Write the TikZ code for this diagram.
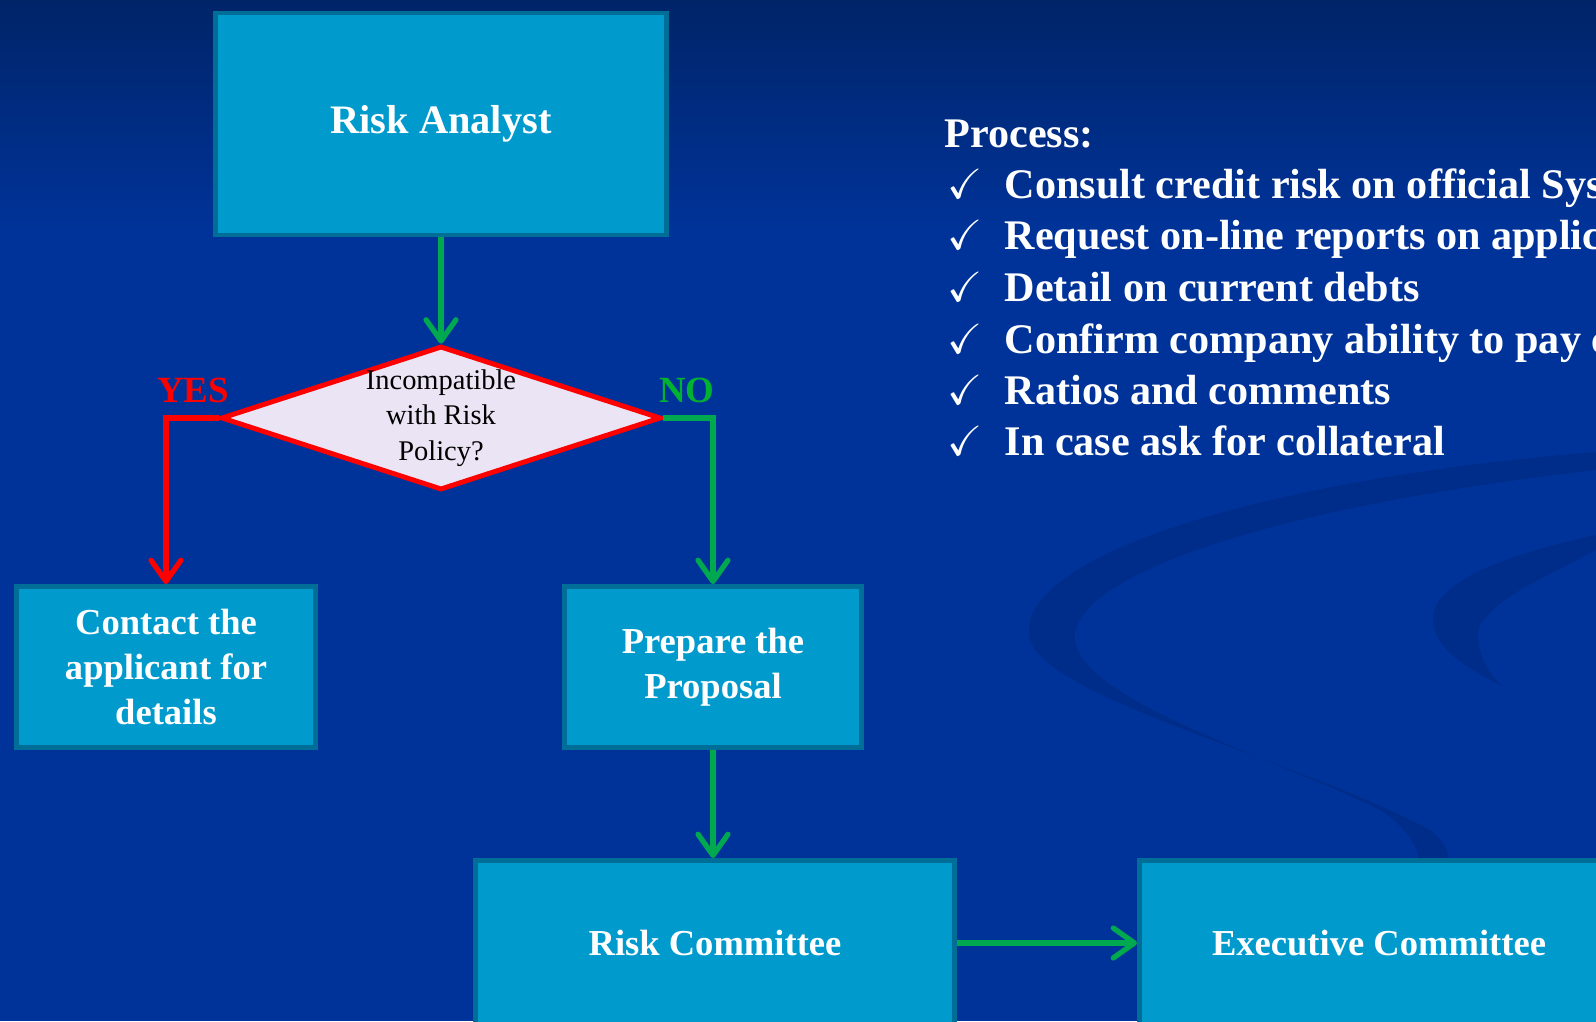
\documentclass[tikz,border=0pt]{standalone}
\usepackage{amssymb}
\usepackage{fontspec}
\setmainfont{Liberation Serif}
\usetikzlibrary{arrows.meta,positioning,shapes.geometric}

\definecolor{bgblue}{RGB}{0,51,153}
\definecolor{bgtop}{RGB}{0,36,104}
\definecolor{swirl}{RGB}{0,44,138}
\definecolor{boxfill}{RGB}{0,154,205}
\definecolor{boxedge}{RGB}{0,110,150}
\definecolor{flowgreen}{RGB}{0,168,80}
\definecolor{nogreen}{RGB}{0,178,50}
\definecolor{decred}{RGB}{255,0,0}
\definecolor{decfill}{RGB}{234,228,244}

\begin{document}
\begin{tikzpicture}[>={Straight Barb[length=6pt,width=8.5pt,round]},
    box/.style={rectangle, draw=boxedge, line width=1.4pt, fill=boxfill, text=white, align=center, inner sep=0pt},
    boxfont/.style={font=\fontsize{10.4}{12.9}\selectfont\bfseries},
    flow/.style={->, draw=flowgreen, line width=1.5pt},
    listtext/.style={anchor=base west, inner sep=0pt, text=white, font=\fontsize{12}{14}\selectfont\bfseries}]
    \useasboundingbox (0,0) rectangle (15.96,10.21);
    \clip (0,0) rectangle (15.96,10.21);

    \fill[bgblue] (0,0) rectangle (15.96,10.21);
    \shade[top color=bgtop, bottom color=bgblue] (0,7.9) rectangle (15.96,10.21);
    \fill[swirl] (15.96,5.69) .. controls (12.5,5.41) and (10.1,4.61) .. (10.3,3.81)
        .. controls (10.5,3.21) and (13.0,2.61) .. (14.3,1.91)
        .. controls (14.7,1.61) and (14.4,1.21) .. (14.0,1.00)
        .. controls (14.2,1.31) and (14.4,1.71) .. (13.8,2.11)
        .. controls (12.8,2.61) and (10.8,3.21) .. (10.75,3.81)
        .. controls (10.7,4.41) and (12.5,5.11) .. (15.96,5.51) -- cycle;
    \fill[swirl] (15.96,4.86) .. controls (14.8,4.61) and (14.3,4.31) .. (14.33,4.0)
        .. controls (14.35,3.71) and (14.7,3.51) .. (15.02,3.35)
        .. controls (14.8,3.56) and (14.75,3.81) .. (14.8,3.96)
        .. controls (15.0,4.26) and (15.4,4.41) .. (15.96,4.71) -- cycle;

    \node[box, font=\fontsize{11.5}{13}\selectfont\bfseries, minimum width=4.51cm, minimum height=2.22cm] (analyst) at (4.41,8.97) {Risk Analyst};
    \node[diamond, draw=decred, fill=decfill, line width=1.4pt, minimum width=4.4cm, minimum height=1.44cm, inner sep=0pt] (dec) at (4.41,6.03) {};
    \node[align=center, text=black, font=\fontsize{8.1}{10.1}\selectfont] (dectxt) at (dec) {Incompatible\\with Risk\\Policy?};
    \node[box, boxfont, minimum width=2.99cm, minimum height=1.61cm] (contact) at (1.66,3.54) {Contact the\\applicant for\\details};
    \node[box, boxfont, minimum width=2.97cm, minimum height=1.61cm] (prepare) at (7.13,3.54) {Prepare the\\Proposal};
    \node[box, boxfont, minimum width=4.79cm, minimum height=1.65cm] (riskcom) at (7.15,0.78) {Risk Committee};
    \node[box, boxfont, minimum width=4.79cm, minimum height=1.65cm] (execcom) at (13.79,0.78) {Executive Committee};

    \node[text=decred, font=\fontsize{10.5}{12}\selectfont\bfseries] (yes) at (1.93,6.31) {YES};
    \node[text=nogreen, font=\fontsize{10.5}{12}\selectfont\bfseries] (no) at (6.87,6.31) {NO};

    \draw[flow] (analyst.south) -- (dec.north);
    \draw[->, draw=decred, line width=1.5pt] (dec.west) -| (contact.north);
    \draw[flow] (dec.east) -| (prepare.north);
    \draw[flow] (prepare.south) -- (prepare.south |- riskcom.north);
    \draw[flow] (riskcom.east) -- (execcom.west);

    \node[listtext] (process) at (9.44,8.73) {Process:};
    \foreach \y/\txt [count=\i] in {8.22/Consult credit risk on official Sys, 7.71/Request on-line reports on applic,
        7.19/Detail on current debts, 6.68/Confirm company ability to pay c,
        6.17/Ratios and comments, 5.66/In case ask for collateral}
    {
        \node[listtext, font=\fontsize{12}{14}\selectfont] (tick\i) at (9.47,\y) {$\checkmark$};
        \node[listtext] (item\i) at (10.04,\y) {\txt};
    }
\end{tikzpicture}
\end{document}
